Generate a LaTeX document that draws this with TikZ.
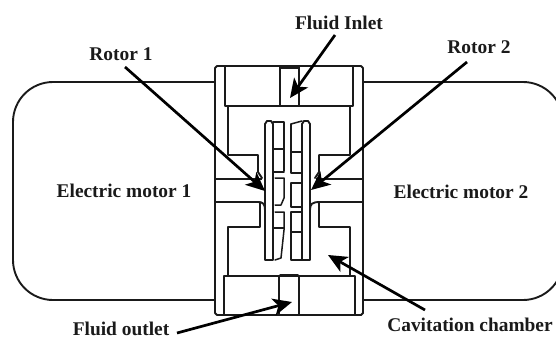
\documentclass[tikz,border=0pt]{standalone}
\usepackage{fontspec}
\setmainfont{Liberation Serif}
\usetikzlibrary{arrows.meta}
\definecolor{ink}{HTML}{1A1A1A}
\tikzset{
 lab/.style={font=\bfseries\fontsize{19.4}{22}\selectfont,text=ink,inner sep=0pt,anchor=center},
 wall/.style={draw=ink,line width=1.9pt,line join=round,line cap=round},
 thin wall/.style={draw=ink,line width=1.5pt,line join=round,line cap=round},
 heavy/.style={draw=ink,line width=2.8pt},
 pointer/.style={draw=black,line width=2.7pt,-{Stealth[length=19pt,width=17pt,inset=5pt]}}
}
\begin{document}
\begin{tikzpicture}[x=1pt,y=-1pt]
\useasboundingbox[fill=white] (0,0) rectangle (556,340);
\clip (0,0) rectangle (556,340);
% motors
\draw[wall] (215,82) -- (53,82) arc[start angle=270,end angle=180,radius=40] -- (13,260) arc[start angle=180,end angle=90,radius=40] -- (215,300);
\draw[wall] (363,82) -- (523,82) arc[start angle=270,end angle=360,radius=40] -- (563,260) arc[start angle=0,end angle=90,radius=40] -- (363,300);
% housing
\draw[wall] (217,66) -- (361,66) -- (363,68) -- (363,313) -- (361,315) -- (217,315) -- (215,313) -- (215,68) -- cycle;
% top block
\draw[wall] (225,66) -- (225,106) -- (353,106) -- (353,66);
\draw[wall] (280,66) -- (280,106);
\draw[wall] (299,66) -- (299,106);
\draw[thin wall] (280,68) -- (299,68);
% bottom block
\draw[wall] (224,315) -- (224,276) -- (355,276) -- (355,315);
\draw[wall] (279,276) -- (279,315);
\draw[wall] (299,276) -- (299,315);
\draw[thin wall] (280,275) -- (298,275);
% cavity
\draw[wall] (228,106) -- (228,155) -- (258,155) -- (258,172) -- (262,178);
\draw[wall] (350,106) -- (350,155) -- (319,155) -- (319,172) -- (315,178);
\draw[wall] (228,276) -- (228,227) -- (260,227) -- (260,202);
\draw[wall] (350,276) -- (350,227) -- (319,227) -- (319,202);
% shafts
\draw[heavy] (216,179) -- (262,179);
\draw[heavy] (216,202) -- (258,202);
\draw[heavy] (316,179) -- (362,179);
\draw[heavy] (320,202) -- (362,202);
\draw[wall] (258,202) .. controls (263,202) and (265,204) .. (265,210);
\draw[wall] (320,202) .. controls (312,202) and (310,204) .. (310,210);
% rotor plates
\draw[wall] (265,260) -- (265,124) -- (267,121) -- (271,121) -- (273,124) -- (273,260) -- cycle;
\draw[wall] (302,260) -- (302,124) -- (304,121) -- (308,121) -- (310,124) -- (310,260) -- cycle;
% left blades
\draw[thin wall] (273,122) -- (284,122) -- (284,171);
\draw[thin wall] (273,149) -- (284,149);
\draw[thin wall] (273,172) -- (284,172);
\draw[thin wall] (275,178) -- (284,178) -- (284,198) -- (281,205) -- (275,205);
\draw[thin wall] (275,212) -- (284,212) -- (284,230) -- (281,258) -- (275,260);
\draw[thin wall] (274,228) -- (284,228);
% right blades
\draw[thin wall] (291,124) -- (302,121);
\draw[thin wall] (291,124) -- (291,173) -- (302,173);
\draw[thin wall] (291,152) -- (302,152);
\draw[thin wall] (291,183) -- (302,183);
\draw[thin wall] (291,183) -- (291,207) -- (302,207);
\draw[thin wall] (291,212) -- (302,212);
\draw[thin wall] (291,212) -- (291,260) -- (302,260);
\draw[thin wall] (291,232) -- (302,232);
% labels
\node[lab] (inlet) at (339,23) {Fluid Inlet};
\node[lab] (r1) at (121,54) {Rotor 1};
\node[lab] (r2) at (479,47) {Rotor 2};
\node[lab] (m1) at (124,191) {Electric motor 1};
\node[lab] (m2) at (461,192) {Electric motor 2};
\node[lab] (out) at (121,329) {Fluid outlet};
\node[lab] (cav) at (470,325) {Cavitation chamber};
% connector ends
\coordinate (inletS) at (335,35);
\coordinate (inletT) at (290,98);
\coordinate (r1S) at (125,67);
\coordinate (r1T) at (265,191);
\coordinate (r2S) at (467,62);
\coordinate (r2T) at (311,190);
\coordinate (outS) at (177,333);
\coordinate (outT) at (292,302);
\coordinate (cavS) at (425,310);
\coordinate (cavT) at (328,255);
\draw[pointer] (inletS) -- (inletT);
\draw[pointer] (r1S) -- (r1T);
\draw[pointer] (r2S) -- (r2T);
\draw[pointer] (outS) -- (outT);
\draw[pointer] (cavS) -- (cavT);
\end{tikzpicture}
\end{document}
